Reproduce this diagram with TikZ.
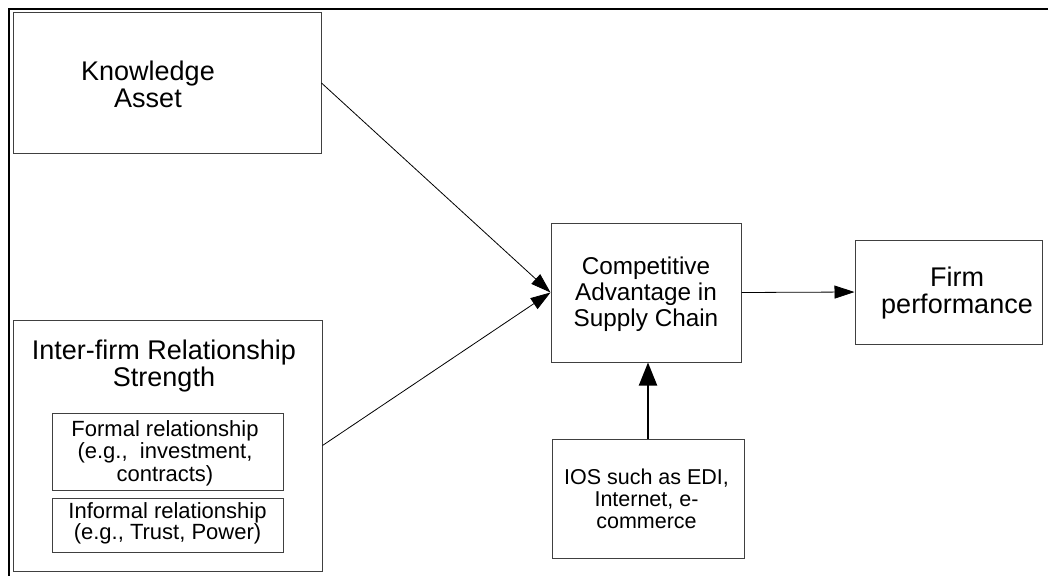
\documentclass[tikz,border=0pt]{standalone}
\usepackage{fontspec}
\setmainfont{Liberation Sans}
\usetikzlibrary{arrows.meta}
\begin{document}
\begin{tikzpicture}[x=1pt,y=-1pt,
  box/.style={draw=black!75,line width=1pt,rectangle,inner sep=0pt},
  txt/.style={inner sep=0pt,align=center},
  big/.style={font=\fontsize{27}{27}\selectfont},
  mid/.style={font=\fontsize{24.3}{26}\selectfont},
  small/.style={font=\fontsize{22}{22.5}\selectfont},
  arr/.style={line width=0.8pt,-{Triangle[length=20pt,width=13pt]}},
  thickarr/.style={line width=2pt,-{Triangle[length=23pt,width=18pt]}}]
\useasboundingbox (0,0) rectangle (1048,575);
\fill[white] (0,0) rectangle (1048,575);
% outer frame (top and left edges)
\draw[line width=2.5pt] (9,576) -- (9,9) -- (1049,9);

% knowledge asset
\node[box,minimum width=308pt,minimum height=140pt] (ka) at (167,83) {};
\node[txt,big] (kat) at (148,84) {Knowledge\\Asset};

% inter-firm relationship strength
\node[box,minimum width=309pt,minimum height=251pt] (irs) at (167.5,445.5) {};
\node[txt,big] (irst) at (164,366) {Inter-firm Relationship\\Strength};
\node[box,minimum width=231pt,minimum height=77pt] (frm) at (167.5,451.5) {};
\node[txt,small] (frmt) at (165,453) {Formal relationship\\(e.g.,\ \ investment,\\contracts)};
\node[box,minimum width=231pt,minimum height=54pt] (inf) at (167.5,525) {};
\node[txt,small,font=\fontsize{22}{21}\selectfont] (inft) at (167.5,523) {Informal relationship\\(e.g., Trust, Power)};

% competitive advantage
\node[box,minimum width=190pt,minimum height=139pt] (cas) at (646,292.5) {};
\node[txt,mid] (cast) at (646,294) {Competitive\\Advantage in\\Supply Chain};

% firm performance
\node[box,minimum width=187pt,minimum height=104pt] (fp) at (948.5,292) {};
\node[txt,big] (fpt) at (957,293) {Firm\\performance};

% IOS
\node[box,minimum width=192pt,minimum height=119pt] (ios) at (648,498.5) {};
\node[txt,small,font=\fontsize{21.5}{22}\selectfont] (iost) at (646.5,499) {IOS such as EDI,\\Internet, e-\\commerce};

% connectors
\draw[arr] (ka.east) -- (cas.west);
\draw[arr] (irs.east) -- (cas.west);
\draw[arr] (cas.east) -- (fp.west);
\draw[thickarr] (ios.north) -- (ios.north |- cas.south);
\end{tikzpicture}
\end{document}
